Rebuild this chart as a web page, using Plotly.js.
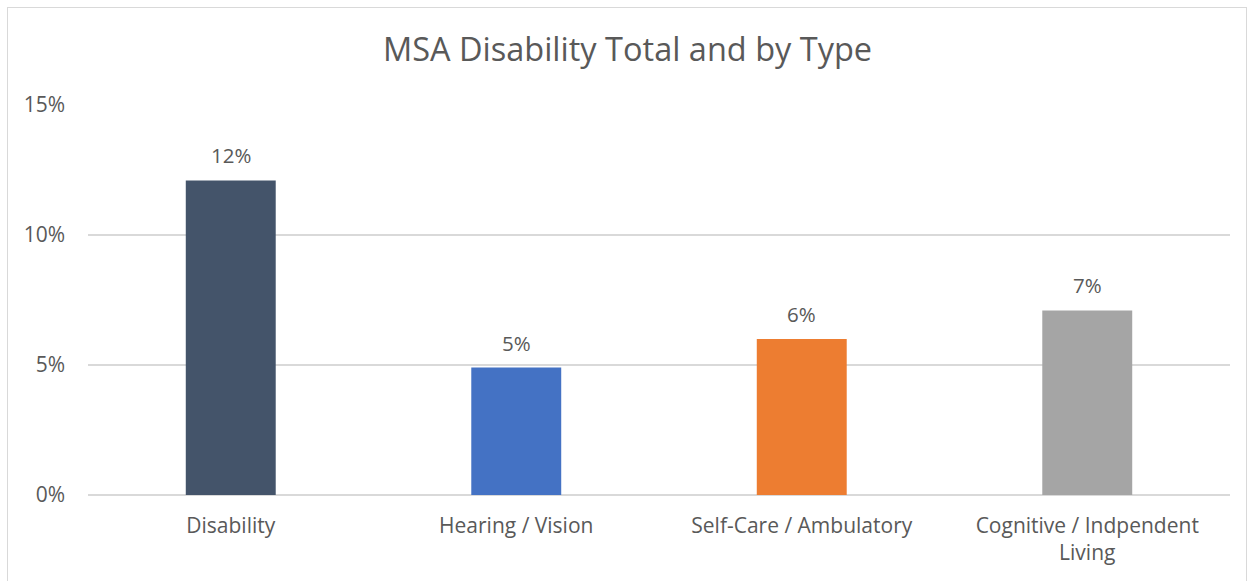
<!DOCTYPE html>
<html>
<head>
<meta charset="utf-8">
<script src="https://cdn.plot.ly/plotly-3.0.1.min.js"></script>
<style>
  html, body { margin: 0; padding: 0; background: #fff; overflow: hidden; }
  #wrap { position: relative; width: 1255px; height: 581px; }
  #frame { position: absolute; left: 7px; top: 7px; width: 1240px; height: 620px; border: 1.5px solid #d9d9d9; box-sizing: border-box; pointer-events: none; }
  #chart { position: absolute; left: 0; top: 0; width: 1255px; height: 581px; }
</style>
</head>
<body>
<div id="wrap">
  <div id="chart"></div>
  <div id="frame"></div>
</div>
<script>
const categories = ["Disability", "Hearing / Vision", "Self-Care / Ambulatory", "Cognitive / Indpendent<br>Living"];
const values = [0.121, 0.049, 0.060, 0.071];
const valueLabels = ["12%", "5%", "6%", "7%"];
const barColors = ["#44546A", "#4472C4", "#ED7D31", "#A5A5A5"];
const tickValues = [0, 0.05, 0.10, 0.15];
const tickLabels = ["0%", "5%", "10%", "15%"];

const fontFamily = '"Open Sans", "Noto Sans", "DejaVu Sans", sans-serif';
const textColor = "#595959";

const trace = {
  type: "bar",
  x: categories,
  y: values,
  marker: { color: barColors },
  hoverinfo: "skip",
  showlegend: false
};

const annotations = categories.map((c, i) => ({
  x: c, y: values[i], xref: "x", yref: "y",
  text: valueLabels[i], showarrow: false,
  yanchor: "bottom", yshift: 9,
  font: { family: fontFamily, size: 20.5, color: textColor }
}));

const layout = {
  width: 1255, height: 581,
  margin: { l: 88, r: 25, t: 105, b: 86 },
  paper_bgcolor: "#ffffff",
  plot_bgcolor: "#ffffff",
  bargap: 0.685,
  title: {
    text: "MSA Disability Total and by Type",
    font: { family: fontFamily, size: 32.5, color: textColor },
    x: 0.5, xanchor: "center",
    y: 1 - 50 / 581, yref: "container", yanchor: "middle"
  },
  xaxis: {
    type: "category",
    showgrid: false, zeroline: false, showline: false,
    ticks: "",
    tickfont: { family: fontFamily, size: 21, color: textColor },
    ticklabelstandoff: 16,
    fixedrange: true
  },
  yaxis: {
    range: [0, 0.15],
    tickvals: tickValues,
    ticktext: tickLabels,
    showgrid: true, gridcolor: "#d9d9d9", gridwidth: 1.5,
    zeroline: true, zerolinecolor: "#d9d9d9", zerolinewidth: 1.5,
    showline: false, ticks: "",
    tickfont: { family: fontFamily, size: 21, color: textColor },
    ticklabelstandoff: 22,
    fixedrange: true
  },
  annotations: annotations
};

Plotly.newPlot("chart", [trace], layout, { displayModeBar: false, staticPlot: true });
</script>
</body>
</html>
